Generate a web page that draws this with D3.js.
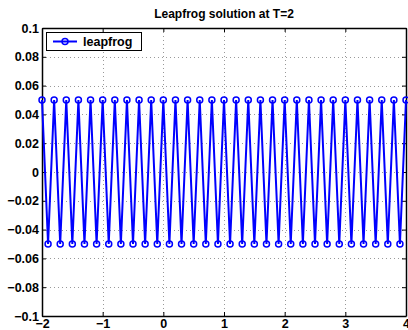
<!DOCTYPE html>
<html>
<head>
<meta charset="utf-8">
<script src="https://cdn.jsdelivr.net/npm/d3@7"></script>
<style>
  body { margin: 0; background: #fff; }
  text { font-family: "Liberation Sans", Arial, sans-serif; font-weight: bold; }
</style>
</head>
<body>
<svg id="chart" width="408" height="330"></svg>
<script>
// grid points x_j and leapfrog solution u_j at T=2
const xs = [
  -2.0, -1.9, -1.8, -1.7, -1.6, -1.5, -1.4, -1.3, -1.2, -1.1,
  -1.0, -0.9, -0.8, -0.7, -0.6, -0.5, -0.4, -0.3, -0.2, -0.1,
   0.0,  0.1,  0.2,  0.3,  0.4,  0.5,  0.6,  0.7,  0.8,  0.9,
   1.0,  1.1,  1.2,  1.3,  1.4,  1.5,  1.6,  1.7,  1.8,  1.9,
   2.0,  2.1,  2.2,  2.3,  2.4,  2.5,  2.6,  2.7,  2.8,  2.9,
   3.0,  3.1,  3.2,  3.3,  3.4,  3.5,  3.6,  3.7,  3.8,  3.9,
   4.0
];
const us = [
  0.05, -0.05, 0.05, -0.05, 0.05, -0.05, 0.05, -0.05, 0.05, -0.05,
  0.05, -0.05, 0.05, -0.05, 0.05, -0.05, 0.05, -0.05, 0.05, -0.05,
  0.05, -0.05, 0.05, -0.05, 0.05, -0.05, 0.05, -0.05, 0.05, -0.05,
  0.05, -0.05, 0.05, -0.05, 0.05, -0.05, 0.05, -0.05, 0.05, -0.05,
  0.05, -0.05, 0.05, -0.05, 0.05, -0.05, 0.05, -0.05, 0.05, -0.05,
  0.05, -0.05, 0.05, -0.05, 0.05, -0.05, 0.05, -0.05, 0.05, -0.05,
  0.05
];
const xTicks = [-2, -1, 0, 1, 2, 3, 4];
const yTicks = [-0.1, -0.08, -0.06, -0.04, -0.02, 0, 0.02, 0.04, 0.06, 0.08, 0.1];
const titleText = 'Leapfrog solution at T=2';
const seriesName = 'leapfrog';

const m = { left: 42, right: 406, top: 28, bottom: 316 };
const svg = d3.select('#chart');

const x = d3.scaleLinear().domain([-2, 4]).range([m.left, m.right]);
const y = d3.scaleLinear().domain([-0.1, 0.1]).range([m.bottom, m.top]);

const fmtY = d => (d === 0 ? '0' : String(+d.toFixed(2))).replace('-', '\u2212');
const fmtX = d => String(d).replace('-', '\u2212');

// grid
const grid = svg.append('g')
  .attr('stroke', '#999')
  .attr('stroke-width', 1)
  .attr('stroke-dasharray', '1,3');
grid.selectAll('line.gx')
  .data(xTicks.slice(1, -1))
  .join('line')
  .attr('x1', d => Math.round(x(d)) + 0.5).attr('x2', d => Math.round(x(d)) + 0.5)
  .attr('y1', m.top).attr('y2', m.bottom);
grid.selectAll('line.gy')
  .data(yTicks.slice(1, -1))
  .join('line')
  .attr('y1', d => Math.round(y(d)) + 0.5).attr('y2', d => Math.round(y(d)) + 0.5)
  .attr('x1', m.left).attr('x2', m.right);

// axes (ticks inward on all sides)
const tickLen = 4;
const axB = svg.append('g').attr('transform', `translate(0,${m.bottom})`)
  .call(d3.axisBottom(x).tickValues(xTicks).tickSizeInner(-tickLen).tickSizeOuter(0).tickPadding(4).tickFormat(fmtX));
const axT = svg.append('g').attr('transform', `translate(0,${m.top})`)
  .call(d3.axisTop(x).tickValues(xTicks).tickSizeInner(-tickLen).tickSizeOuter(0).tickFormat(''));
const axL = svg.append('g').attr('transform', `translate(${m.left},0)`)
  .call(d3.axisLeft(y).tickValues(yTicks).tickSizeInner(-tickLen).tickSizeOuter(0).tickPadding(3).tickFormat(fmtY));
const axR = svg.append('g').attr('transform', `translate(${m.right},0)`)
  .call(d3.axisRight(y).tickValues(yTicks).tickSizeInner(-tickLen).tickSizeOuter(0).tickFormat(''));

[axB, axT, axL, axR].forEach(a => {
  a.select('.domain').attr('stroke', '#000').attr('stroke-width', 1.5);
  a.selectAll('.tick line').attr('stroke', '#000');
  a.selectAll('text')
    .attr('font-family', '"Liberation Sans", Arial, sans-serif')
    .attr('font-weight', 'bold')
    .attr('font-size', 12.5)
    .attr('fill', '#000');
});
axB.selectAll('text').attr('dy', '0.6em');

// series
const pts = xs.map((d, i) => [d, us[i]]);
svg.append('path')
  .datum(pts)
  .attr('fill', 'none')
  .attr('stroke', '#0000ff')
  .attr('stroke-width', 2)
  .attr('d', d3.line().x(d => x(d[0])).y(d => y(d[1])));

svg.append('g')
  .selectAll('circle')
  .data(pts)
  .join('circle')
  .attr('cx', d => x(d[0]))
  .attr('cy', d => y(d[1]))
  .attr('r', 3)
  .attr('fill', 'none')
  .attr('stroke', '#0000ff')
  .attr('stroke-width', 1.5);

// title
svg.append('text')
  .attr('x', (m.left + m.right) / 2)
  .attr('y', 18)
  .attr('text-anchor', 'middle')
  .attr('font-size', 12)
  .text(titleText);

// legend
const lg = svg.append('g');
lg.append('rect')
  .attr('x', 46.5).attr('y', 32.5)
  .attr('width', 95).attr('height', 18)
  .attr('fill', '#fff').attr('stroke', '#000').attr('stroke-width', 1);
lg.append('line')
  .attr('x1', 53).attr('x2', 77).attr('y1', 41.5).attr('y2', 41.5)
  .attr('stroke', '#0000ff').attr('stroke-width', 2);
lg.append('circle')
  .attr('cx', 65).attr('cy', 41.5).attr('r', 3)
  .attr('fill', 'none').attr('stroke', '#0000ff').attr('stroke-width', 1.5);
lg.append('text')
  .attr('x', 83).attr('y', 46)
  .attr('font-size', 12.5)
  .text(seriesName);
</script>
</body>
</html>
